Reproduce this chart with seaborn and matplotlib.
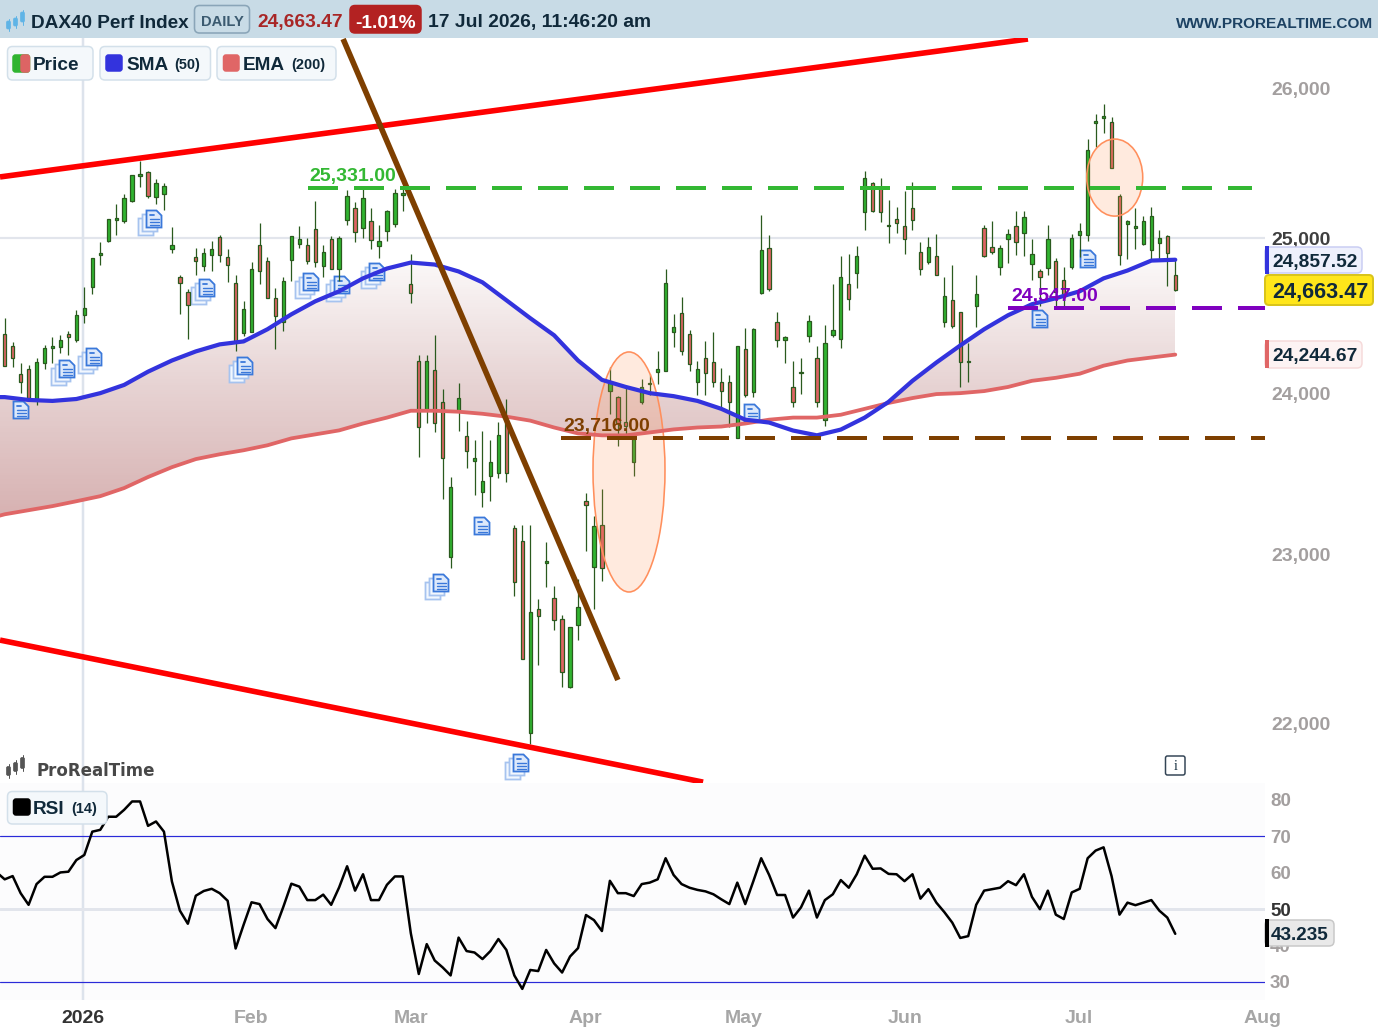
import numpy as np
import matplotlib
matplotlib.use("Agg")
import matplotlib.pyplot as plt
import seaborn as sns
from matplotlib.colors import LinearSegmentedColormap
from matplotlib.patches import Ellipse, FancyBboxPatch, Polygon, Rectangle
from matplotlib.path import Path
from matplotlib.ticker import FuncFormatter, NullLocator

# Daily candles, oldest first
opens = [
    24374, 24297, 24123, 24155, 23957, 24194, 24284, 24290, 24374, 24336,
    24497, 24678, 24890, 24981, 25121, 25114, 25242, 25409, 25436, 25268,
    25289, 24929, 24748, 24645, 24877, 24819, 24890, 25007, 24877, 24703,
    24381, 24387, 24955, 24852, 24607, 24452, 24858, 24961, 24955, 25060,
    24819, 24994, 24794, 25121, 25195, 25067, 25114, 24948, 25047, 25094,
    25282, 24697, 24207, 23901, 24149, 23944, 22988, 23889, 23729, 23574,
    23383, 23482, 23500, 23833, 23161, 23087, 21946, 22674, 22953, 22740,
    22615, 22213, 22580, 23327, 22929, 23179, 24013, 23975, 23821, 23568,
    23944, 24058, 24136, 24142, 24387, 24510, 24374, 24071, 24220, 24200,
    24071, 24071, 23716, 24278, 24007, 24639, 24935, 24452, 24336, 24039,
    24129, 24361, 24226, 23833, 24368, 24342, 24697, 24768, 25174, 25362,
    25336, 25081, 25127, 25081, 25195, 24910, 24845, 24884, 24452, 24594,
    24516, 24200, 24555, 25067, 24942, 24813, 24994, 25081, 25034, 24832,
    24787, 24806, 24852, 24723, 24813, 25020, 25020, 25765, 25805, 25778,
    25275, 25094, 25067, 24961, 24923, 24968, 25013, 24755,
]
closes = [
    24174, 24226, 24071, 23969, 24200, 24284, 24297, 24336, 24355, 24497,
    24542, 24871, 24903, 25127, 25134, 25262, 25416, 25423, 25275, 25362,
    25342, 24955, 24703, 24561, 24852, 24903, 24929, 24890, 24826, 24323,
    24536, 24800, 24781, 24607, 24490, 24716, 25013, 24994, 24852, 24845,
    24910, 24794, 25000, 25275, 25040, 25262, 24987, 24981, 25181, 25295,
    25295, 24639, 23790, 24207, 23815, 23593, 23414, 23969, 23636, 23593,
    23451, 23568, 23735, 23500, 22834, 22378, 22657, 22633, 22964, 22609,
    22301, 22568, 22686, 23303, 23173, 22923, 24065, 23815, 23796, 23710,
    24039, 24065, 24155, 24703, 24419, 24265, 24187, 24155, 24129, 24071,
    24013, 23944, 24297, 23988, 24407, 24923, 24665, 24336, 24355, 23944,
    24136, 24458, 23944, 24316, 24400, 24742, 24600, 24884, 25396, 25181,
    25174, 25087, 25101, 24994, 25121, 24800, 24942, 24761, 24619, 24426,
    24200, 24207, 24632, 24884, 24910, 24935, 25027, 24974, 25141, 24897,
    24742, 24994, 24645, 24613, 25000, 25047, 25584, 25785, 25819, 25463,
    24890, 25114, 25081, 25114, 25148, 25000, 24903, 24663.47,
]
highs = [
    24478, 24323, 24194, 24181, 24220, 24303, 24355, 24368, 24394, 24529,
    24678, 24871, 24974, 25127, 25228, 25289, 25416, 25510, 25443, 25389,
    25362, 25074, 24761, 24665, 24935, 24935, 24981, 25020, 24929, 24761,
    24587, 24845, 25101, 24877, 24671, 24742, 25013, 25081, 25000, 25242,
    24955, 25013, 25013, 25315, 25235, 25336, 25201, 25087, 25188, 25322,
    25322, 24897, 24245, 24245, 24368, 24026, 23476, 24065, 23827, 23704,
    23759, 23704, 23821, 23963, 23179, 23179, 23179, 22734, 23081, 22811,
    22639, 22568, 22852, 23377, 23235, 23402, 24168, 23981, 24045, 23729,
    24091, 24123, 24265, 24794, 24503, 24613, 24400, 24207, 24329, 24387,
    24161, 24116, 24297, 24413, 24413, 25154, 25020, 24516, 24361, 24207,
    24226, 24497, 24297, 24432, 24697, 24884, 24897, 24948, 25443, 25369,
    25396, 25248, 25208, 25309, 25369, 24974, 25007, 25027, 24742, 24826,
    24516, 24316, 24755, 25087, 25114, 24955, 25060, 25181, 25181, 24994,
    24800, 25087, 24871, 24813, 25027, 25101, 25658, 25832, 25899, 25812,
    25289, 25121, 25201, 25148, 25208, 25054, 25020, 24871,
]
lows = [
    24174, 24168, 24000, 23957, 23926, 24155, 24194, 24252, 24245, 24323,
    24445, 24632, 24826, 24974, 25020, 25101, 25235, 25336, 25262, 25228,
    25188, 24903, 24503, 24342, 24761, 24787, 24781, 24845, 24710, 24265,
    24361, 24387, 24697, 24607, 24278, 24394, 24716, 24935, 24832, 24813,
    24748, 24794, 24716, 25087, 24974, 25000, 24929, 24871, 24981, 25074,
    25181, 24574, 23599, 23815, 23753, 23340, 22923, 23759, 23531, 23364,
    23290, 23327, 23469, 23445, 22751, 22378, 21881, 22343, 22805, 22550,
    22213, 22207, 22491, 23025, 22674, 22840, 23870, 23667, 23741, 23482,
    23932, 23988, 24058, 24142, 24290, 24245, 24142, 23988, 23988, 24039,
    23895, 23790, 23716, 23975, 23975, 24632, 24652, 24290, 24194, 23914,
    23994, 24323, 23914, 23796, 24355, 24284, 24529, 24671, 25054, 25174,
    25107, 24968, 25034, 24897, 25054, 24755, 24832, 24755, 24419, 24413,
    24039, 24071, 24419, 24877, 24897, 24755, 24839, 24890, 24884, 24723,
    24555, 24755, 24555, 24555, 24794, 24877, 24981, 25604, 25698, 25463,
    24826, 24865, 24929, 24955, 24858, 24858, 24684, 24652,
]

# Moving averages, sampled every third session from the session before the first candle
ma_sessions = [-1] + list(range(0, 148, 3))
sma_50 = [
    23975, 23975, 23957, 23951, 23963, 24000, 24052, 24136, 24207, 24265, 24310,
    24329, 24407, 24503, 24587, 24652, 24736, 24800, 24839, 24826, 24781,
    24710, 24594, 24478, 24368, 24207, 24084, 24039, 24000, 23981, 23951,
    23901, 23833, 23815, 23765, 23735, 23771, 23846, 23945, 24078, 24194,
    24303, 24407, 24497, 24568, 24607, 24652, 24736, 24787, 24852, 24857.52,
]
ema_200 = [
    23234, 23247, 23272, 23297, 23327, 23358, 23408, 23476, 23537, 23587, 23617,
    23642, 23673, 23716, 23741, 23766, 23809, 23846, 23889, 23889, 23883,
    23870, 23852, 23827, 23784, 23747, 23735, 23735, 23753, 23772, 23784,
    23790, 23809, 23833, 23846, 23846, 23864, 23901, 23938, 23969, 23994,
    24000, 24013, 24039, 24078, 24097, 24123, 24174, 24207, 24226, 24244.67,
]

# RSI (14), from the session before the first candle
rsi_14 = [
    60.1, 58.2, 59.1, 54.4, 51.2, 56.9, 58.9, 58.9, 60.1, 60.3, 63.5,
    64.9, 71.3, 71.8, 75.4, 75.4, 77.3, 79.6, 79.6, 72.9, 74.1,
    71.3, 57.6, 49.6, 46.0, 53.7, 55.0, 55.6, 54.4, 52.3, 39.2,
    45.7, 51.9, 51.4, 47.3, 44.8, 50.7, 57.0, 56.2, 52.5, 52.5,
    54.0, 51.2, 56.0, 61.8, 55.1, 59.6, 52.5, 52.5, 56.7, 59.0,
    59.0, 43.4, 32.2, 40.4, 35.9, 34.0, 31.8, 42.2, 38.5, 38.1,
    36.3, 38.5, 41.8, 38.8, 31.8, 28.1, 33.3, 33.0, 38.8, 35.1,
    32.6, 37.0, 39.3, 48.4, 47.0, 44.0, 57.8, 54.4, 54.4, 53.6,
    56.9, 57.3, 58.2, 64.0, 59.4, 56.9, 55.9, 55.3, 54.9, 54.1,
    52.7, 51.4, 57.3, 51.4, 57.6, 64.0, 59.4, 53.9, 53.9, 47.7,
    50.5, 55.1, 47.7, 52.5, 54.1, 58.0, 55.9, 59.6, 64.7, 61.1,
    61.2, 59.7, 59.6, 57.7, 59.6, 52.9, 55.5, 51.8, 49.2, 46.3,
    42.1, 42.6, 51.2, 55.1, 55.5, 55.9, 57.7, 56.6, 59.6, 53.4,
    50.0, 55.1, 48.5, 47.3, 54.6, 55.6, 64.0, 66.1, 67.0, 59.1,
    48.5, 51.8, 51.1, 51.8, 52.5, 49.6, 47.7, 43.235,
]

# Axis ticks and labelled levels
month_positions = [9.87, 30.93, 51.0, 72.9, 92.84, 113.06, 134.9, 157.9]
month_labels = ["2026", "Feb", "Mar", "Apr", "May", "Jun", "Jul", "Aug"]
price_ticks = [22000, 23000, 24000, 25000, 26000]
rsi_ticks = [30, 40, 50, 60, 70, 80]
resistance = 25331.00
support = 23716.00
pivot = 24547.00

# Trend lines: (session, price) end points
channel_top = ([-0.59, 128.5], [25405, 26344])
channel_bottom = ([-0.59, 87.7], [22490, 21665])
breakdown_line = ([42.5, 77.0], [26344, 22255])

X_MIN, X_MAX = -0.59, 158.27
Y_MIN, Y_MAX = 21660, 26351
W, H = 1378, 1033

sns.set_theme(style="white")
plt.rcParams["font.family"] = ["Liberation Sans", "DejaVu Sans"]
plt.rcParams["text.color"] = "#10293a"

GREEN = "#30b430"
RED = "#dd6464"
EDGE = "#2a5a1e"
BLUE = "#3333dd"
PX = 0.72  # points per pixel at 100 dpi

fig = plt.figure(figsize=(W / 100, H / 100), dpi=100, facecolor="white")
ax = fig.add_axes([0, 1 - 783 / H, 1265 / W, 745 / H], facecolor="white")
rsi_ax = fig.add_axes([0, 1 - 1000 / H, 1265 / W, 217 / H], facecolor="#fcfcfd")
top = fig.add_axes([0, 0, 1, 1], facecolor="none", zorder=10)
top.set_xlim(0, W)
top.set_ylim(H, 0)
top.axis("off")

# ---- Price panel ----
ax.set_yscale("log")
ax.set_xlim(X_MIN, X_MAX)
ax.set_ylim(Y_MIN, Y_MAX)
for side in ax.spines.values():
    side.set_visible(False)

ax.axhline(25000, color="#e2e5ec", lw=2.2 * PX, zorder=0.5)
ax.axvline(month_positions[0], color="#dde3ec", lw=2.5 * PX, zorder=0.6)

sessions = np.arange(len(closes))
sma = np.array(sma_50)
ema = np.array(ema_200)

# Shaded band between the averages, fading upwards
band_cmap = LinearSegmentedColormap.from_list("band", ["#d6b0b0", "#e6d2d2", "#fcfafa"])
band = ax.fill_between(ma_sessions, sma, ema, where=sma >= ema, interpolate=True,
                       color="none", lw=0)
band_path = Path.make_compound_path(*band.get_paths())
price_edges = np.geomspace(23200, 24900, 121)
mesh = ax.pcolormesh([X_MIN, X_MAX], price_edges,
                     np.log(price_edges[:-1]).reshape(-1, 1), cmap=band_cmap,
                     shading="flat", zorder=1, rasterized=True)
mesh.set_clip_path(band_path, ax.transData)


def icon(cx, cy, layers):
    """Small news-document marker, optionally stacked."""
    for n in range(layers - 1, -1, -1):
        x0, y0 = cx - 7.5 - 4 * n, cy - 8.5 + 4 * n
        faint = n > 0
        edge = "#a6c3ef" if faint else "#3a78da"
        face = "#f2f7fe" if faint else "#dde9fb"
        shape = Polygon([(x0, y0), (x0 + 10, y0), (x0 + 15, y0 + 5), (x0 + 15, y0 + 17),
                         (x0, y0 + 17)], closed=True, facecolor=face, edgecolor=edge,
                        lw=1.8 * PX, transform=top.transData, zorder=3)
        ax.add_patch(shape)
        if not faint:
            ax.plot([x0 + 3, x0 + 7], [y0 + 4.5] * 2, color=edge, lw=1.8 * PX,
                    transform=top.transData, zorder=3.1)
            for row in (8, 11, 14):
                ax.plot([x0 + 3, x0 + 12], [y0 + row] * 2, color=edge, lw=1.4 * PX,
                        transform=top.transData, zorder=3.1)


for cx, cy, layers in [(21, 410, 1), (67, 369, 3), (94, 357, 3), (154, 219, 3), (207, 288, 3),
                       (245, 366, 3), (311, 282, 3), (342, 285, 3), (377, 272, 3), (441, 583, 3),
                       (482, 526, 1), (521, 763, 3), (752, 413, 1), (1040, 319, 1), (1088, 259, 1)]:
    icon(cx, cy, layers)

# Candles
ax.vlines(sessions, lows, highs, color=EDGE, lw=1.25 * PX, zorder=3.5)
body_low = np.minimum(opens, closes)
body_high = np.maximum(opens, closes)
colors = [GREEN if c >= o else RED for o, c in zip(opens, closes)]
ax.bar(sessions, body_high - body_low, bottom=body_low, width=0.42, color=colors,
       edgecolor=EDGE, linewidth=1.25 * PX, zorder=3.6)

# Highlight ellipses
for xc, yc, w, h in [(78.4, 23519, 9.04, 1485), (139.4, 25402, 7.03, 515)]:
    ax.add_patch(Ellipse((xc, yc), w, h, facecolor=(1.0, 0.55, 0.3, 0.18),
                         edgecolor="#ff8f5c", lw=1.6 * PX, zorder=4))

sns.lineplot(x=ma_sessions, y=ema_200, ax=ax, color="#e06666", linewidth=3.8 * PX,
             estimator=None, sort=False, zorder=5)
sns.lineplot(x=ma_sessions, y=sma_50, ax=ax, color=BLUE, linewidth=4.2 * PX,
             estimator=None, sort=False, zorder=5.5)

# Channel and trend lines
ax.plot(*channel_top, color="#ff0000", lw=5.6 * PX, solid_capstyle="butt", zorder=6)
ax.plot(*channel_bottom, color="#ff0000", lw=5.6 * PX, solid_capstyle="butt", zorder=6)
ax.plot(*breakdown_line, color="#7e3f00", lw=5.6 * PX, solid_capstyle="butt", zorder=6.5)

# Dashed levels and their labels
dash_lw = 4 * PX
dash_pattern = (0, (30 / 4, 16 / 4))
for level, start, end, col, text_x in [(resistance, 38.09, 156.6, "#33b833", 38.2),
                                       (support, 69.86, X_MAX, "#7e3f00", 70.2),
                                       (pivot, 126.0, X_MAX, "#7f00bf", 126.4)]:
    ax.plot([start, end], [level, level], color=col, lw=dash_lw, ls=dash_pattern,
            dash_capstyle="butt", zorder=7)
    ax.annotate(f"{level:,.2f}", xy=(text_x, level), xytext=(0, 11.5 * PX),
                textcoords="offset points", color=col, fontsize=14, fontweight="bold",
                va="center", ha="left", zorder=8)

ax.set_yticks(price_ticks)
ax.yaxis.set_minor_locator(NullLocator())
ax.yaxis.set_major_formatter(FuncFormatter(lambda v, _: f"{v:,.0f}"))
ax.yaxis.tick_right()
ax.tick_params(axis="y", length=0, pad=4.5, labelsize=14, labelcolor="#a39f9f")
for label in ax.get_yticklabels():
    label.set_fontweight("bold")
    if label.get_text() == "25,000":
        label.set_color("#3f3f3f")
ax.set_xticks([])
ax.set_xlabel("")
ax.set_ylabel("")

# ---- RSI panel ----
rsi_ax.set_xlim(X_MIN, X_MAX)
rsi_ax.set_ylim(25.05, 84.67)
for side in rsi_ax.spines.values():
    side.set_visible(False)
rsi_ax.axhline(50, color="#e2e5ec", lw=3 * PX, zorder=1)
rsi_ax.axvline(month_positions[0], color="#dde3ec", lw=2.5 * PX, zorder=0.6)
for bound in (70, 30):
    rsi_ax.axhline(bound, color="#2a2ad8", lw=1.2 * PX, zorder=1.5)
sns.lineplot(x=np.arange(-1, len(closes)), y=rsi_14, ax=rsi_ax, color="black",
             linewidth=2.5 * PX, estimator=None, sort=False, zorder=3)
rsi_ax.set_yticks(rsi_ticks)
rsi_ax.yaxis.tick_right()
rsi_ax.tick_params(axis="y", length=0, pad=3.6, labelsize=13.5, labelcolor="#a39f9f")
for label in rsi_ax.get_yticklabels():
    label.set_fontweight("bold")
    if label.get_text() == "50":
        label.set_color("#333333")
rsi_ax.set_xticks(month_positions)
rsi_ax.set_xticklabels(month_labels)
rsi_ax.tick_params(axis="x", length=0, pad=7.5, labelsize=14, labelcolor="#a6a6a6")
for label in rsi_ax.get_xticklabels():
    label.set_fontweight("bold")
    if label.get_text() == "2026":
        label.set_color("#333333")
rsi_ax.set_xlabel("")
rsi_ax.set_ylabel("")


# ---- Header, legend chips, value flags ----
def txt(x, y, s, px, color="#10293a", ha="left", weight="bold", **kw):
    top.text(x, y, s, fontsize=px * PX, color=color, ha=ha, va="center", fontweight=weight, **kw)


def chip(x0, y0, x1, y1, face, edge, r=5, lw=1.5):
    top.add_patch(FancyBboxPatch((x0, y0), x1 - x0, y1 - y0,
                                 boxstyle=f"round,pad=0,rounding_size={r}",
                                 facecolor=face, edgecolor=edge, lw=lw * PX))


def block(x0, y0, x1, y1, color):
    top.add_patch(Rectangle((x0, y0), x1 - x0, y1 - y0, facecolor=color, edgecolor="none"))


def mini_candles(xs, ys, hs, color):
    for x, y, h in zip(xs, ys, hs):
        top.plot([x, x], [y - h * 0.75, y + h * 0.75], color=color, lw=1 * PX)
        top.add_patch(FancyBboxPatch((x - 2, y - h / 2), 4, h,
                                     boxstyle="round,pad=0,rounding_size=1.5",
                                     facecolor=color, edgecolor=color, lw=0.5))


block(0, 0, W, 38, "#c8dbe6")
mini_candles([8.5, 15.5, 22.5], [25, 22, 17], [8, 8, 10], "#5fb4e6")
txt(31, 23, "DAX40 Perf Index", 19)
chip(194.5, 5.5, 249.5, 33, "#c8dbe6", "#8aa5b8", r=5, lw=1.6)
txt(222, 22.5, "DAILY", 14.8, color="#3b5a70", ha="center")
txt(257, 23, "24,663.47", 19.2, color="#a82626")
chip(350, 5.5, 421, 33, "#b32222", "#b32222", r=5)
txt(385.5, 23, "-1.01%", 19.2, color="white", ha="center")
txt(428, 23, "17 Jul 2026, 11:46:20 am", 19.3)
txt(1373, 23.5, "WWW.PROREALTIME.COM", 15.4, color="#1d4263", ha="right")

chip(7.5, 46.5, 93, 80, "#f4f8fb", "#d3e0ea")
chip(13, 55, 29.5, 72, GREEN, GREEN, r=2.5)
chip(21, 55, 29.5, 72, RED, RED, r=2.5)
txt(33, 65, "Price", 19)
chip(100, 46.5, 210.5, 80, "#f4f8fb", "#d3e0ea")
chip(106, 55, 122, 71, BLUE, BLUE, r=2.5)
txt(126, 65, "SMA", 19)
txt(174, 65.5, "(50)", 14.5)
chip(217, 46.5, 336, 80, "#f4f8fb", "#d3e0ea")
chip(223.5, 55, 239, 71, "#e06666", "#e06666", r=2.5)
txt(243, 65, "EMA", 19)
txt(291, 65.5, "(200)", 14.5)

mini_candles([8.5, 15.5, 22.5], [771, 767, 763], [9, 9, 11], "#555555")
txt(37, 771, "ProRealTime", 16.6, color="#484848", family="DejaVu Sans")
chip(1165.5, 756, 1185, 775, "white", "#334455", r=2, lw=1.5)
txt(1175.2, 766, "i", 14, color="#10293a", ha="center", weight="normal", family="Liberation Serif")

chip(7.5, 791.5, 107, 824, "#f4f8fb", "#d3e0ea")
chip(13.5, 799, 30, 815, "black", "black", r=2.5)
txt(33, 809, "RSI", 19)
txt(71, 809.5, "(14)", 14.5)

chip(1265, 247, 1362, 273, "#eef0fc", "#c9cdf3")
block(1265, 246, 1269, 274, BLUE)
txt(1272, 262.5, "24,857.52", 19.2)
chip(1265, 275, 1373, 305, "#ffe61a", "#d9c41a", r=4, lw=2)
txt(1272, 292, "24,663.47", 21.6)
chip(1265, 341, 1362, 368, "#fdf3f3", "#f6dada")
block(1265, 340, 1269, 368, "#e06666")
txt(1272, 356.5, "24,244.67", 19.2)
chip(1265, 920, 1334, 946, "#e9e9e9", "#c8c8c8")
block(1265, 919, 1269, 947, "black")
txt(1271, 935, "43.235", 19)

fig.savefig("out.png", dpi=100)
